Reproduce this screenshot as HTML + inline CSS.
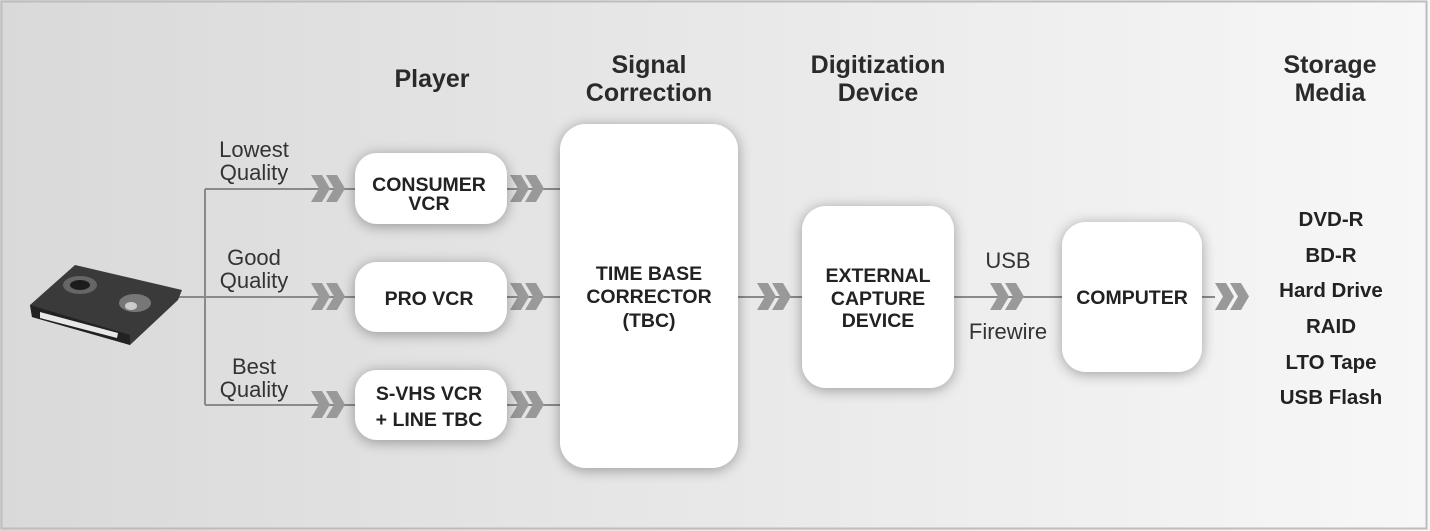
<!DOCTYPE html>
<html><head><meta charset="utf-8"><style>
html,body{margin:0;padding:0;width:1430px;height:531px;overflow:hidden;background:#fff}
svg{display:block}
text{font-family:"Liberation Sans",sans-serif;fill:#2a2a2a}
.h{font-size:25px;font-weight:bold;text-anchor:middle}
.q{font-size:22px;text-anchor:middle;fill:#333}
.b{font-size:19.5px;font-weight:bold;text-anchor:middle;fill:#222}
.s{font-size:20.5px;font-weight:bold;text-anchor:middle;fill:#222}
</style></head><body>
<svg width="1430" height="531" viewBox="0 0 1430 531" xmlns="http://www.w3.org/2000/svg">
<defs>
<linearGradient id="bg" x1="0" y1="0" x2="1" y2="0">
<stop offset="0" stop-color="#d9d9d9"/><stop offset="0.5" stop-color="#e8e8e8"/><stop offset="1" stop-color="#f7f7f7"/>
</linearGradient>
<filter id="sh" x="-30%" y="-30%" width="160%" height="160%"><feGaussianBlur in="SourceAlpha" stdDeviation="7"/><feOffset dx="0" dy="2"/><feComponentTransfer><feFuncA type="linear" slope="0.35"/></feComponentTransfer><feMerge><feMergeNode/><feMergeNode in="SourceGraphic"/></feMerge></filter>
<g id="ch"><polygon points="0,0 11,0 19,13.5 11,27 0,27 8,13.5" fill="#999"/><polygon points="15,0 26,0 34,13.5 26,27 15,27 23,13.5" fill="#999"/></g>
</defs>
<rect x="0" y="0" width="1430" height="531" fill="url(#bg)"/>
<rect x="1.5" y="1.5" width="1425" height="527" fill="none" stroke="#bdbdbd" stroke-width="2"/>
<text class="h" x="432" y="87">Player</text>
<text class="h" x="649" y="73">Signal</text><text class="h" x="649" y="101">Correction</text>
<text class="h" x="878" y="73">Digitization</text><text class="h" x="878" y="101">Device</text>
<text class="h" x="1330" y="73">Storage</text><text class="h" x="1330" y="101">Media</text>
<g stroke="#8a8a8a" stroke-width="2" fill="none">
<path d="M172 297H205M205 189V405M205 189H360M205 297H360M205 405H360"/>
<path d="M505 189H562M505 297H562M505 405H562"/>
<path d="M738 297H805M952 297H1064M1200 297H1215"/>
</g>
<use href="#ch" x="311" y="175"/><use href="#ch" x="311" y="283"/><use href="#ch" x="311" y="391"/>
<use href="#ch" x="510" y="175"/><use href="#ch" x="510" y="283"/><use href="#ch" x="510" y="391"/>
<use href="#ch" x="757" y="283"/><use href="#ch" x="990" y="283"/><use href="#ch" x="1215" y="283"/>
<text class="q" x="254" y="157">Lowest</text><text class="q" x="254" y="180">Quality</text>
<text class="q" x="254" y="265">Good</text><text class="q" x="254" y="288">Quality</text>
<text class="q" x="254" y="374">Best</text><text class="q" x="254" y="397">Quality</text>
<text class="q" x="1008" y="268">USB</text><text class="q" x="1008" y="339">Firewire</text>
<g>
<polygon points="30,305 75,265 182,290 178,300 130,345 32,317" fill="#3a3a3a"/>
<polygon points="30,305 130,335 130,345 32,317" fill="#222"/>
<polygon points="40,312 118,333 117,338 40,318" fill="#e8e8e8"/>
<ellipse cx="80" cy="285" rx="17" ry="9" fill="#666"/><ellipse cx="80" cy="285" rx="10" ry="5" fill="#1c1c1c"/>
<ellipse cx="135" cy="303" rx="16" ry="9" fill="#777"/><ellipse cx="131" cy="306" rx="6" ry="4" fill="#ccc"/>
</g>
<g fill="#fff" filter="url(#sh)">
<rect x="355" y="153" width="152" height="71" rx="22"/>
<rect x="355" y="262" width="152" height="70" rx="22"/>
<rect x="355" y="370" width="152" height="70" rx="22"/>
<rect x="560" y="124" width="178" height="344" rx="26"/>
<rect x="802" y="206" width="152" height="182" rx="24"/>
<rect x="1062" y="222" width="140" height="150" rx="24"/>
</g>
<text class="b" x="429" y="191">CONSUMER</text><text class="b" x="429" y="210">VCR</text>
<text class="b" x="429" y="305">PRO VCR</text>
<text class="b" x="429" y="400">S-VHS VCR</text><text class="b" x="429" y="426">+ LINE TBC</text>
<text class="b" x="649" y="280">TIME BASE</text><text class="b" x="649" y="303">CORRECTOR</text><text class="b" x="649" y="327">(TBC)</text>
<text class="b" x="878" y="282">EXTERNAL</text><text class="b" x="878" y="305">CAPTURE</text><text class="b" x="878" y="327">DEVICE</text>
<text class="b" x="1132" y="304">COMPUTER</text>
<text class="s" x="1331" y="226">DVD-R</text>
<text class="s" x="1331" y="262">BD-R</text>
<text class="s" x="1331" y="297">Hard Drive</text>
<text class="s" x="1331" y="333">RAID</text>
<text class="s" x="1331" y="369">LTO Tape</text>
<text class="s" x="1331" y="404">USB Flash</text>
</svg>
</body></html>
